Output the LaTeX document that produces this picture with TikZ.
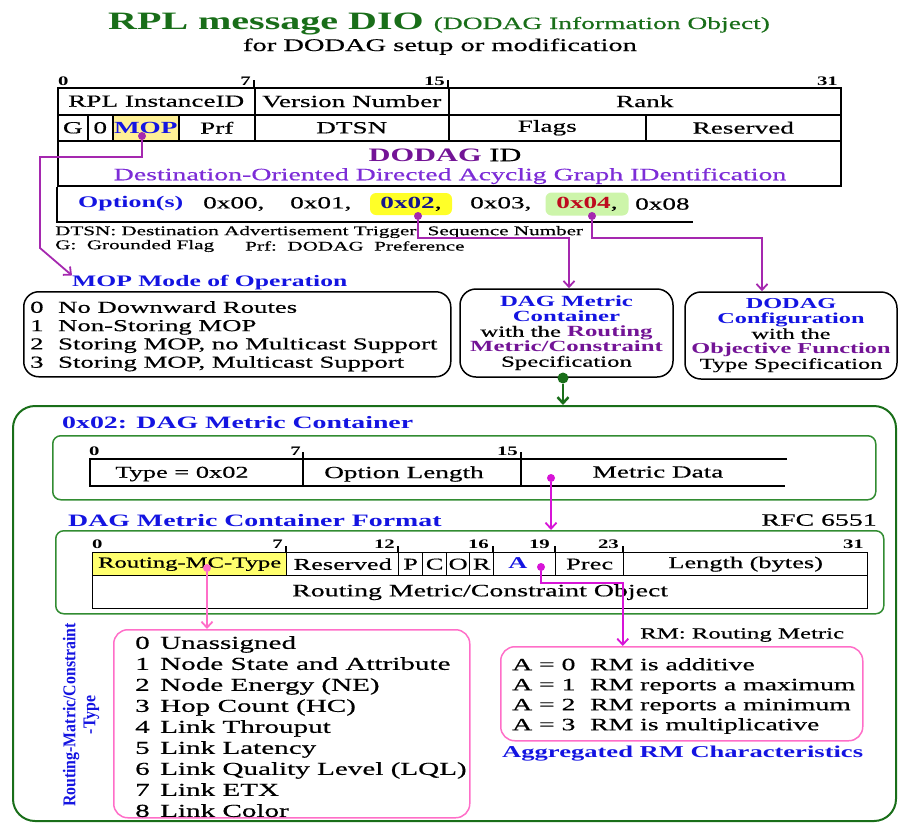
\documentclass[tikz,border=0pt]{standalone}
\usepackage{fontspec}
\setmainfont{Liberation Serif}[FakeStretch=1.6, UprightFeatures={FakeBold=0.5}]
\newfontfamily\condfont{Liberation Serif}[FakeStretch=0.88]
\usetikzlibrary{arrows.meta,calc}
\definecolor{hblue}{RGB}{20,20,225}
\definecolor{dgreen}{RGB}{25,110,25}
\definecolor{lgreen}{RGB}{50,140,50}
\definecolor{purp}{RGB}{115,20,150}
\definecolor{violetc}{RGB}{125,45,215}
\definecolor{conn}{RGB}{165,40,175}
\definecolor{mag}{RGB}{215,20,215}
\definecolor{pinkc}{RGB}{255,110,200}
\definecolor{mopy}{RGB}{255,240,150}
\definecolor{hly}{RGB}{255,255,40}
\definecolor{hlg}{RGB}{205,245,170}
\definecolor{navy}{RGB}{20,20,140}
\definecolor{dred}{RGB}{190,10,30}
\definecolor{rmcy}{RGB}{255,255,110}
\newcommand\fz[2]{\fontsize{#1}{#2}\selectfont}
\newcommand\nb[2]{\makebox[#1][l]{#2}}
\begin{document}
\begin{tikzpicture}[x=1pt,y=-1pt,
  every node/.style={inner sep=0pt},
  txt/.style={anchor=west, inner sep=0pt},
  bit/.style={font=\bfseries\fz{13}{13}, inner sep=0pt},
  cellA/.style={draw, line width=1.5pt, anchor=north west, minimum height=27pt, font=\fz{17}{20}},
  cellB/.style={draw, line width=1.5pt, anchor=north west, minimum height=26pt, font=\fz{17}{20}},
  cellC/.style={draw, line width=1.3pt, anchor=north west, minimum height=23pt, font=\fz{16.5}{20}},
  tl/.style={line width=1.5pt},
  dot/.style={circle, inner sep=0pt, minimum size=8pt},
  arr/.style={-{Straight Barb[length=6pt,width=11pt]}},
  conline/.style={draw=conn, line width=1.8pt},
  magline/.style={draw=mag, line width=1.8pt},
  pinkline/.style={draw=pinkc, line width=1.8pt},
  blackbox/.style={draw, line width=1.5pt, rounded corners=15pt, anchor=north west},
  greenbox/.style={draw=lgreen, line width=1.5pt, rounded corners=8pt, anchor=north west},
  pinkbox/.style={draw=pinkc, line width=1.5pt, rounded corners=14pt, anchor=north west},
  head/.style={anchor=west, font=\bfseries\fz{17.4}{20}, text=hblue}
]
\useasboundingbox (0,0) rectangle (901,823);

% ---------- title ----------
\node[anchor=base west, text=dgreen] (title) at (108,29)
  {\fz{25}{30}\bfseries RPL message DIO \fz{17.2}{20}\mdseries (DODAG Information Object)};
\node[anchor=base, font=\fz{17.8}{20}] (subtitle) at (440,51) {for DODAG setup or modification};

% ---------- DIO table ----------
\node[bit, anchor=south west] (b0) at (58,86) {0};
\node[bit, anchor=south east] (b7) at (251,86) {7};
\node[bit, anchor=south east] (b15) at (445,86) {15};
\node[bit, anchor=south east] (b31) at (838,86) {31};
\draw[tl] (254,80) -- (254,87);
\draw[tl] (448,80) -- (448,87);

\node[cellA, minimum width=197pt] (rplid) at (57,87) {RPL InstanceID};
\node[cellA, minimum width=194pt] (vernum) at (254,87) {Version Number};
\node[cellA, minimum width=392pt] (rank) at (448,87) {Rank};

\node[cellB, minimum width=30pt] (gflag) at (57,114) {G};
\node[cellB, minimum width=25pt] (zero) at (87,114) {0};
\node[cellB, minimum width=66pt, fill=mopy, text=hblue, font=\bfseries\fz{17}{20}] (mop) at (112,114) {MOP};
\node[cellB, minimum width=76pt] (prf) at (178,114) {Prf};
\node[cellB, minimum width=194pt] (dtsn) at (254,114) {DTSN};
\node[cellB, minimum width=197pt] (flags) at (448,114) {Flags};
\node[cellB, minimum width=195pt] (resv) at (645,114) {Reserved};

\node[draw, line width=1.5pt, anchor=north west, minimum width=783pt, minimum height=45pt] (idrow) at (57,140) {};
\node[font=\fz{19}{20}] (idtitle) at (445,155) {\textcolor{purp}{\bfseries DODAG} ID};
\node[font=\fz{17.4}{20}, text=violetc] (idlong) at (450,176) {Destination-Oriented Directed Acyclig Graph IDentification};

\coordinate (optcorner) at (57,222);
\coordinate (optend) at (693,222);
\draw[tl] (idrow.south west) -- (optcorner) -- (optend);

\node[txt, font=\bfseries\fz{16.2}{20}, text=hblue] (opt) at (78,204) {Option(s)};
\node[txt, font=\fz{17}{20}] (o00) at (203,204) {0x00,};
\node[txt, font=\fz{17}{20}] (o01) at (290,204) {0x01,};
\node[fill=hly, rounded corners=6pt, minimum width=82pt, minimum height=22pt, font=\fz{17}{20}] (o02) at (411,204) {\textcolor{navy}{\bfseries 0x02},};
\node[txt, font=\fz{17}{20}] (o03) at (470,204) {0x03,};
\node[fill=hlg, rounded corners=6pt, minimum width=83pt, minimum height=23pt, font=\fz{17}{20}] (o04) at (587,204) {\textcolor{dred}{\bfseries 0x04},};
\node[txt, font=\fz{17}{20}] (o08) at (635,204) {0x08};

\node[txt, font=\fz{13.2}{14}] (fn1) at (55,232) {DTSN: Destination Advertisement Trigger\hspace{6pt} Sequence Number};
\node[txt, font=\fz{13.2}{14}] (fn2) at (55,246) {G:\ \ Grounded Flag};
\node[txt, font=\fz{13.2}{14}] (fn3) at (245,246) {Prf:\ \ DODAG\ \ Preference};

% ---------- second tier boxes ----------
\node[head, font=\bfseries\fz{16}{20}] (moptitle) at (72,283) {MOP Mode of Operation};
\node[blackbox, minimum width=427pt, minimum height=85pt] (mopbox) at (23,291) {};
\node[anchor=north west, align=left, font=\fz{16.7}{18.3}] (moplist) at (30,301)
  {\nb{28pt}{0}No Downward Routes\\ \nb{28pt}{1}Non-Storing MOP\\ \nb{28pt}{2}Storing MOP, no Multicast Support\\ \nb{28pt}{3}Storing MOP, Multicast Support};

\node[draw, line width=1.5pt, rounded corners=16pt, minimum width=213pt, minimum height=88pt, align=center, font=\fz{15.5}{15}] (dagbox) at (566.5,333)
  {\textcolor{hblue}{\bfseries DAG Metric}\\ \textcolor{hblue}{\bfseries Container}\\ with the \textcolor{purp}{\bfseries Routing}\\ \textcolor{purp}{\bfseries Metric/Constraint}\\ Specification};

\node[draw, line width=1.5pt, rounded corners=16pt, minimum width=212pt, minimum height=87pt, align=center, font=\fz{15.2}{15}] (cfgbox) at (791,335.5)
  {\textcolor{hblue}{\bfseries DODAG}\\ \textcolor{hblue}{\bfseries Configuration}\\ with the\\ \textcolor{purp}{\bfseries Objective Function}\\ Type Specification};

% connectors from the table
\node[dot, fill=conn] (dmop) at (142,136) {};
\node[dot, fill=conn] (d02) at (418,216) {};
\node[dot, fill=conn] (d04) at (592,216) {};
\coordinate (mopbend) at (40,157);
\coordinate (mopdown) at (40,248);
\draw[conline, arr] (dmop) |- (mopbend) -- (mopdown) -- (moptitle.north west);
\draw[conline, arr] (d02) -- ++(0,22) -| ([xshift=2.5pt]dagbox.north);
\draw[conline, arr] (d04) -- ++(0,22) -| ([xshift=-29pt]cfgbox.north);

% ---------- big green container ----------
\node[draw=dgreen, line width=2pt, rounded corners=22pt, anchor=north west, minimum width=883pt, minimum height=415pt] (bigbox) at (12,405) {};
\node[dot, fill=dgreen, minimum size=11pt] (dgd) at (563,378) {};
\draw[draw=dgreen, line width=2.5pt, arr] (dgd) -- (dgd |- bigbox.north);

\node[head] (mchead) at (62,423) {0x02: DAG Metric Container};
\node[greenbox, minimum width=823pt, minimum height=64pt] (mcbox) at (52,435) {};
\node[bit, anchor=south west] (c0) at (89,456) {0};
\node[bit, anchor=south east] (c7) at (301,456) {7};
\node[bit, anchor=south east] (c15) at (518,456) {15};
\draw[tl] (303,452) -- (303,486);
\draw[tl] (521,452) -- (521,486);
\draw[tl] (787,459) -- (90,459) -- (90,486) -- (785,486);
\node[font=\fz{16.5}{20}] (ttype) at (182,474) {Type = 0x02};
\node[font=\fz{17}{20}] (tolen) at (404,474) {Option Length};
\node[font=\fz{17}{20}] (tmd) at (658,472) {Metric Data};

\node[head] (fmthead) at (68,521) {DAG Metric Container Format};
\node[anchor=east, font=\fz{17.4}{20}] (rfc) at (877,520) {RFC 6551};
\node[greenbox, minimum width=828pt, minimum height=83pt] (fmtbox) at (55,530) {};

\node[dot, fill=mag] (dmd) at (551,478) {};
\draw[magline, arr] (dmd) -- (dmd |- fmtbox.north);

\node[bit, anchor=south west] (f0) at (92,549) {0};
\node[bit, anchor=south east] (f7) at (283,549) {7};
\node[bit, anchor=south east] (f12) at (395,549) {12};
\node[bit, anchor=south east] (f16) at (489,549) {16};
\node[bit, anchor=south east] (f19) at (550,549) {19};
\node[bit, anchor=south east] (f23) at (619,549) {23};
\node[bit, anchor=south east] (f31) at (864,549) {31};
\foreach \tx in {286,398,493,555,623} \draw[line width=1.3pt] (\tx,546) -- (\tx,552);

\node[cellC, minimum width=194pt, fill=rmcy, font=\fz{15.4}{20}] (crmc) at (92,552) {Routing-MC-Type};
\node[cellC, minimum width=112pt] (cres) at (286,552) {Reserved};
\node[cellC, minimum width=24pt] (cp) at (398,552) {P};
\node[cellC, minimum width=24pt] (cc) at (422,552) {C};
\node[cellC, minimum width=23pt] (co) at (446,552) {O};
\node[cellC, minimum width=24pt] (cr) at (469,552) {R};
\node[cellC, minimum width=62pt] (ca) at (493,552) {};
\node[cellC, minimum width=68pt] (cprec) at (555,552) {Prec};
\node[cellC, minimum width=244pt] (clen) at (623,552) {Length (bytes)};
\node[draw, line width=1.3pt, anchor=north west, minimum width=775pt, minimum height=33pt, font=\fz{17.4}{20}] (cobj) at (92,575) {Routing Metric/Constraint Object};
\node[font=\bfseries\fz{16.5}{20}, text=hblue] (aletter) at (518,563) {A};

\node[dot, fill=pinkc] (drmc) at (207,568) {};
\node[dot, fill=mag] (da) at (541,567) {};

% ---------- lists ----------
\node[pinkbox, minimum width=356pt, minimum height=188pt] (typebox) at (113,629) {};
\node[anchor=north west, align=left, font=\fz{18.2}{21}] (typelist) at (135,636)
  {\nb{25pt}{0}Unassigned\\ \nb{25pt}{1}Node State and Attribute\\ \nb{25pt}{2}Node Energy (NE)\\ \nb{25pt}{3}Hop Count (HC)\\ \nb{25pt}{4}Link Throuput\\ \nb{25pt}{5}Link Latency\\ \nb{25pt}{6}Link Quality Level (LQL)\\ \nb{25pt}{7}Link ETX\\ \nb{25pt}{8}Link Color};

\node[rotate=90, align=center, font=\condfont\bfseries\fz{18}{20}, text=hblue] (rotl) at (81,715) {Routing-Matric/Constraint\\-Type};

\node[txt, font=\fz{15.5}{18}] (rmlabel) at (640,635) {RM: Routing Metric};
\node[pinkbox, minimum width=362pt, minimum height=94pt] (rmbox) at (500,646) {};
\node[anchor=north west, align=left, font=\fz{17.3}{20}] (rmlist) at (512,658)
  {\nb{78pt}{A = 0}RM is additive\\ \nb{78pt}{A = 1}RM reports a maximum\\ \nb{78pt}{A = 2}RM reports a minimum\\ \nb{78pt}{A = 3}RM is multiplicative};
\node[txt, font=\bfseries\fz{16.6}{20}, text=hblue] (agg) at (502,754) {Aggregated RM Characteristics};

\draw[pinkline, arr] (drmc) -- (drmc |- typebox.north);
\draw[magline, arr] (da) -- ++(0,16) -| ([xshift=-59pt]rmbox.north);
\end{tikzpicture}
\end{document}
